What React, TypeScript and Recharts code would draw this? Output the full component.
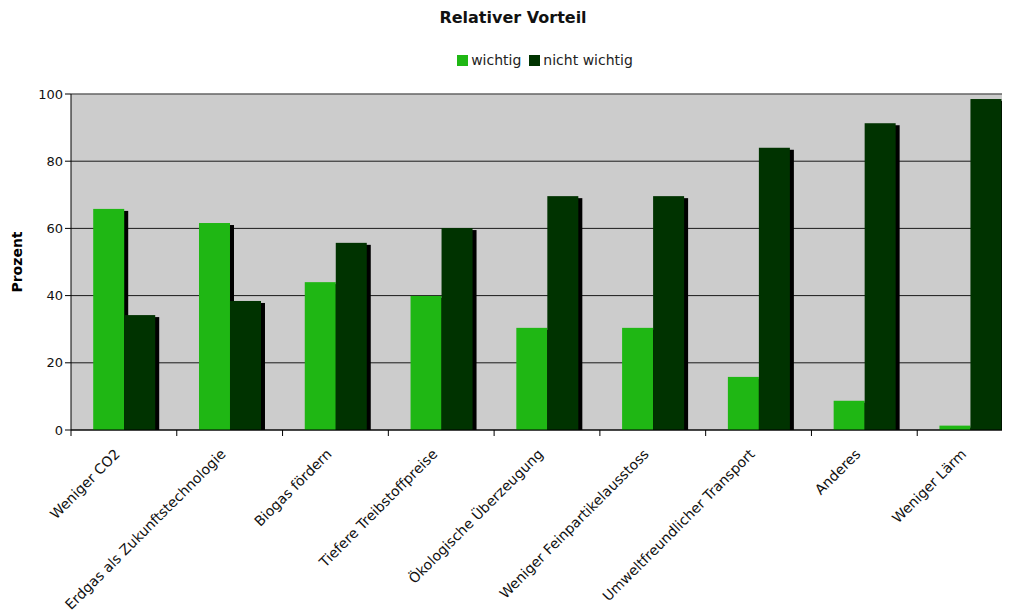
import React from 'react'
import { BarChart, Bar, XAxis, YAxis, CartesianGrid, Legend, ReferenceLine } from 'recharts'

const categories = [
  'Weniger CO2',
  'Erdgas als Zukunftstechnologie',
  'Biogas fördern',
  'Tiefere Treibstoffpreise',
  'Ökologische Überzeugung',
  'Weniger Feinpartikelausstoss',
  'Umweltfreundlicher Transport',
  'Anderes',
  'Weniger Lärm',
]
const wichtig = [65.8, 61.6, 44.0, 39.9, 30.4, 30.4, 15.8, 8.7, 1.3]
const nichtWichtig = [34.2, 38.4, 55.7, 60.1, 69.6, 69.6, 84.0, 91.3, 98.5]
const yTicks = [0, 20, 40, 60, 80, 100]

const data = categories.map((name, i) => ({ name, wichtig: wichtig[i], nichtWichtig: nichtWichtig[i] }))

const FONT = '"DejaVu Sans", Verdana, sans-serif'
const WIDTH = 1030
const HEIGHT = 606
const LEGEND_H = 16
// legend height is added to the top offset by recharts, so subtract it here
const MARGIN = { top: 86 - LEGEND_H, right: 15, bottom: 0, left: 0 }
const Y_AXIS_W = 63
const BAND = (WIDTH - MARGIN.left - MARGIN.right - Y_AXIS_W) / categories.length

// bar with a hard black drop shadow to the right
const ShadowBar = (props: any) => {
  const { x, y, width, height, fill } = props
  if (!height || height <= 0) return null
  return (
    <g>
      <rect x={x + 4} y={y + 2} width={width} height={Math.max(height - 2, 0)} fill="#000" />
      <rect x={x} y={y} width={width} height={height} fill={fill} />
    </g>
  )
}

// category label, rotated, plus a tick mark on the band boundary
const CategoryTick = (props: any) => {
  const { x, y, payload } = props
  const bx = x - BAND / 2
  const ax = x - 3
  const ay = y + 19
  return (
    <g>
      <line x1={bx} x2={bx} y1={y - 6} y2={y} stroke="#000" />
      <text
        x={ax}
        y={ay}
        textAnchor="end"
        fontSize={14}
        fontFamily={FONT}
        fill="#111"
        transform={`rotate(-45, ${ax}, ${ay})`}
      >
        {payload.value}
      </text>
    </g>
  )
}

const LegendContent = () => (
  <div
    style={{
      display: 'flex',
      justifyContent: 'center',
      fontSize: 14,
      lineHeight: `${LEGEND_H}px`,
      height: LEGEND_H,
      fontFamily: FONT,
      color: '#222',
    }}
  >
    <span style={{ display: 'flex', alignItems: 'center', marginRight: 8 }}>
      <span style={{ width: 11, height: 11, background: '#1fb714', marginRight: 3 }} />
      wichtig
    </span>
    <span style={{ display: 'flex', alignItems: 'center' }}>
      <span style={{ width: 11, height: 11, background: '#003300', marginRight: 3 }} />
      nicht wichtig
    </span>
  </div>
)

export default function App() {
  return (
    <div style={{ position: 'relative', width: 1002, height: HEIGHT, overflow: 'hidden', fontFamily: FONT }}>
      <div
        style={{
          position: 'absolute',
          top: 0,
          left: 0,
          width: 1010,
          textAlign: 'center',
          fontWeight: 'bold',
          fontSize: 16,
          color: '#111',
        }}
      >
        Relativer Vorteil
      </div>
      <BarChart
        width={WIDTH}
        height={HEIGHT}
        data={data}
        margin={MARGIN}
        barCategoryGap="21%"
        barGap={0}
      >
        <CartesianGrid vertical={false} stroke="#1a1a1a" fill="#cccccc" fillOpacity={1} />
        <ReferenceLine y={100} stroke="#888" />
        <Legend verticalAlign="top" content={<LegendContent />} wrapperStyle={{ top: 44, left: 0, width: 1074 }} />
        <XAxis
          dataKey="name"
          interval={0}
          height={184}
          tickSize={6}
          tickMargin={0}
          tickLine={false}
          axisLine={{ stroke: '#000' }}
          tick={<CategoryTick />}
        />
        <YAxis
          width={Y_AXIS_W}
          domain={[0, 100]}
          ticks={yTicks}
          tickSize={6}
          axisLine={{ stroke: '#000' }}
          tickLine={{ stroke: '#000' }}
          tick={{ fontSize: 13, fill: '#111', fontFamily: FONT }}
          label={{
            value: 'Prozent',
            angle: -90,
            position: 'insideLeft',
            offset: 9,
            style: { fontWeight: 'bold', fontSize: 14, fill: '#000', fontFamily: FONT, textAnchor: 'middle' },
          }}
        />
        <Bar dataKey="wichtig" name="wichtig" fill="#1fb714" shape={<ShadowBar />} isAnimationActive={false} />
        <Bar dataKey="nichtWichtig" name="nicht wichtig" fill="#003300" shape={<ShadowBar />} isAnimationActive={false} />
      </BarChart>
    </div>
  )
}
